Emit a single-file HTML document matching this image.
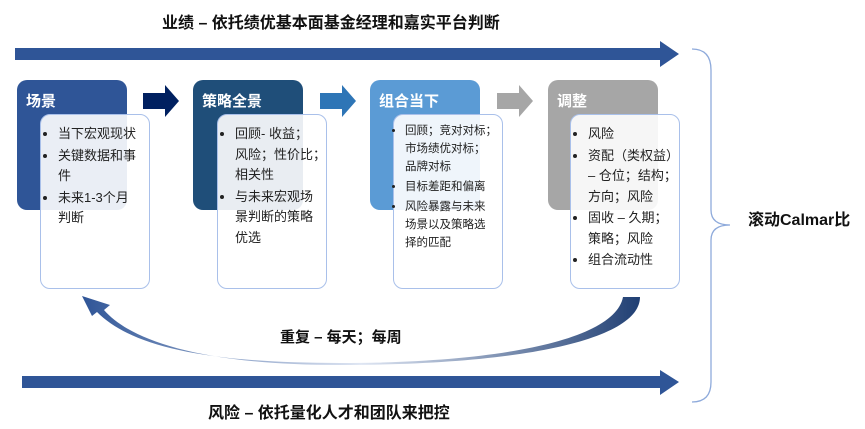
<!DOCTYPE html>
<html><head><meta charset="utf-8"><style>
body{margin:0;width:865px;height:429px;background:#fff;position:relative;overflow:hidden;font-family:"Liberation Sans","Noto Sans CJK SC",sans-serif;}
.h{position:absolute;border-radius:10px;height:130px;width:110px;top:80px;color:#fff;font-weight:bold;font-size:15px;box-sizing:border-box;padding:10px 0 0 9px;}
.b{position:absolute;top:114px;width:110px;height:175px;border:1px solid #a9c0ea;border-radius:10px;background:rgba(255,255,255,0.9);box-sizing:border-box;font-size:13px;color:#222;line-height:20.5px;padding:9px 0 0 6px;white-space:nowrap;}
.b ul{margin:0;padding:0 0 0 11px;}
.b li{margin-bottom:1px;}
.b.s{font-size:11.5px;line-height:18px;padding:7px 0 0 4px;}
.b.s ul{padding-left:7px;}
.b.s li{margin-bottom:2px;}
.t{position:absolute;font-weight:bold;color:#111;white-space:nowrap;}
</style></head><body>
<svg width="865" height="429" style="position:absolute;left:0;top:0">
<polygon points="15,48 660,48 660,41 679,54 660,67 660,60 15,60" fill="#2F5597"/>
<polygon points="22,376 660,376 660,370 679,382 660,395 660,388 22,388" fill="#2F5597"/>
<polygon points="143,93 165,93 165,85 179,101 165,117 165,109 143,109" fill="#002060"/>
<polygon points="320,93 342,93 342,85 356,101 342,117 342,109 320,109" fill="#2E75B6"/>
<polygon points="497,93 519,93 519,85 533,101 519,117 519,109 497,109" fill="#A6A6A6"/>
<path d="M692,49 Q711,49 711,70 L711,210 Q711,225 730,225 Q711,225 711,240 L711,382 Q711,402 692,402" fill="none" stroke="#8EAADB" stroke-width="1.3"/>
<defs><linearGradient id="g" x1="0" x2="1"><stop offset="0" stop-color="#2F5597"/><stop offset="0.5" stop-color="#dfe6f3"/><stop offset="1" stop-color="#203F73"/></linearGradient></defs>
<path d="M640,297 C640,340 520,365 340,365 C200,365 130,340 104,310 L110,305 L82,296 L92,316 L97,312 C130,345 200,363 340,363 C500,363 615,340 623,297 Z" fill="url(#g)"/>
</svg>
<div class="h" style="left:17px;background:#2F5597">场景</div>
<div class="h" style="left:193px;background:#1F4E79">策略全景</div>
<div class="h" style="left:370px;background:#5B9BD5">组合当下</div>
<div class="h" style="left:548px;background:#A6A6A6">调整</div>
<div class="b" style="left:40px"><ul><li>当下宏观现状</li><li>关键数据和事<br>件</li><li>未来1-3个月<br>判断</li></ul></div>
<div class="b" style="left:217px"><ul><li>回顾- 收益；<br>风险；性价比；<br>相关性</li><li>与未来宏观场<br>景判断的策略<br>优选</li></ul></div>
<div class="b s" style="left:393px"><ul><li>回顾；竞对对标；<br>市场绩优对标；<br>品牌对标</li><li>目标差距和偏离</li><li>风险暴露与未来<br>场景以及策略选<br>择的匹配</li></ul></div>
<div class="b" style="left:570px"><ul><li>风险</li><li>资配（类权益）<br>– 仓位；结构；<br>方向；风险</li><li>固收 – 久期；<br>策略；风险</li><li>组合流动性</li></ul></div>
<div class="t" style="left:162px;top:9px;font-size:16px">业绩 – 依托绩优基本面基金经理和嘉实平台判断</div>
<div class="t" style="left:208px;top:399px;font-size:16px">风险 – 依托量化人才和团队来把控</div>
<div class="t" style="left:280px;top:326px;font-size:15px">重复 – 每天；每周</div>
<div class="t" style="left:748px;top:206px;font-size:16px">滚动Calmar比</div>
</body></html>
